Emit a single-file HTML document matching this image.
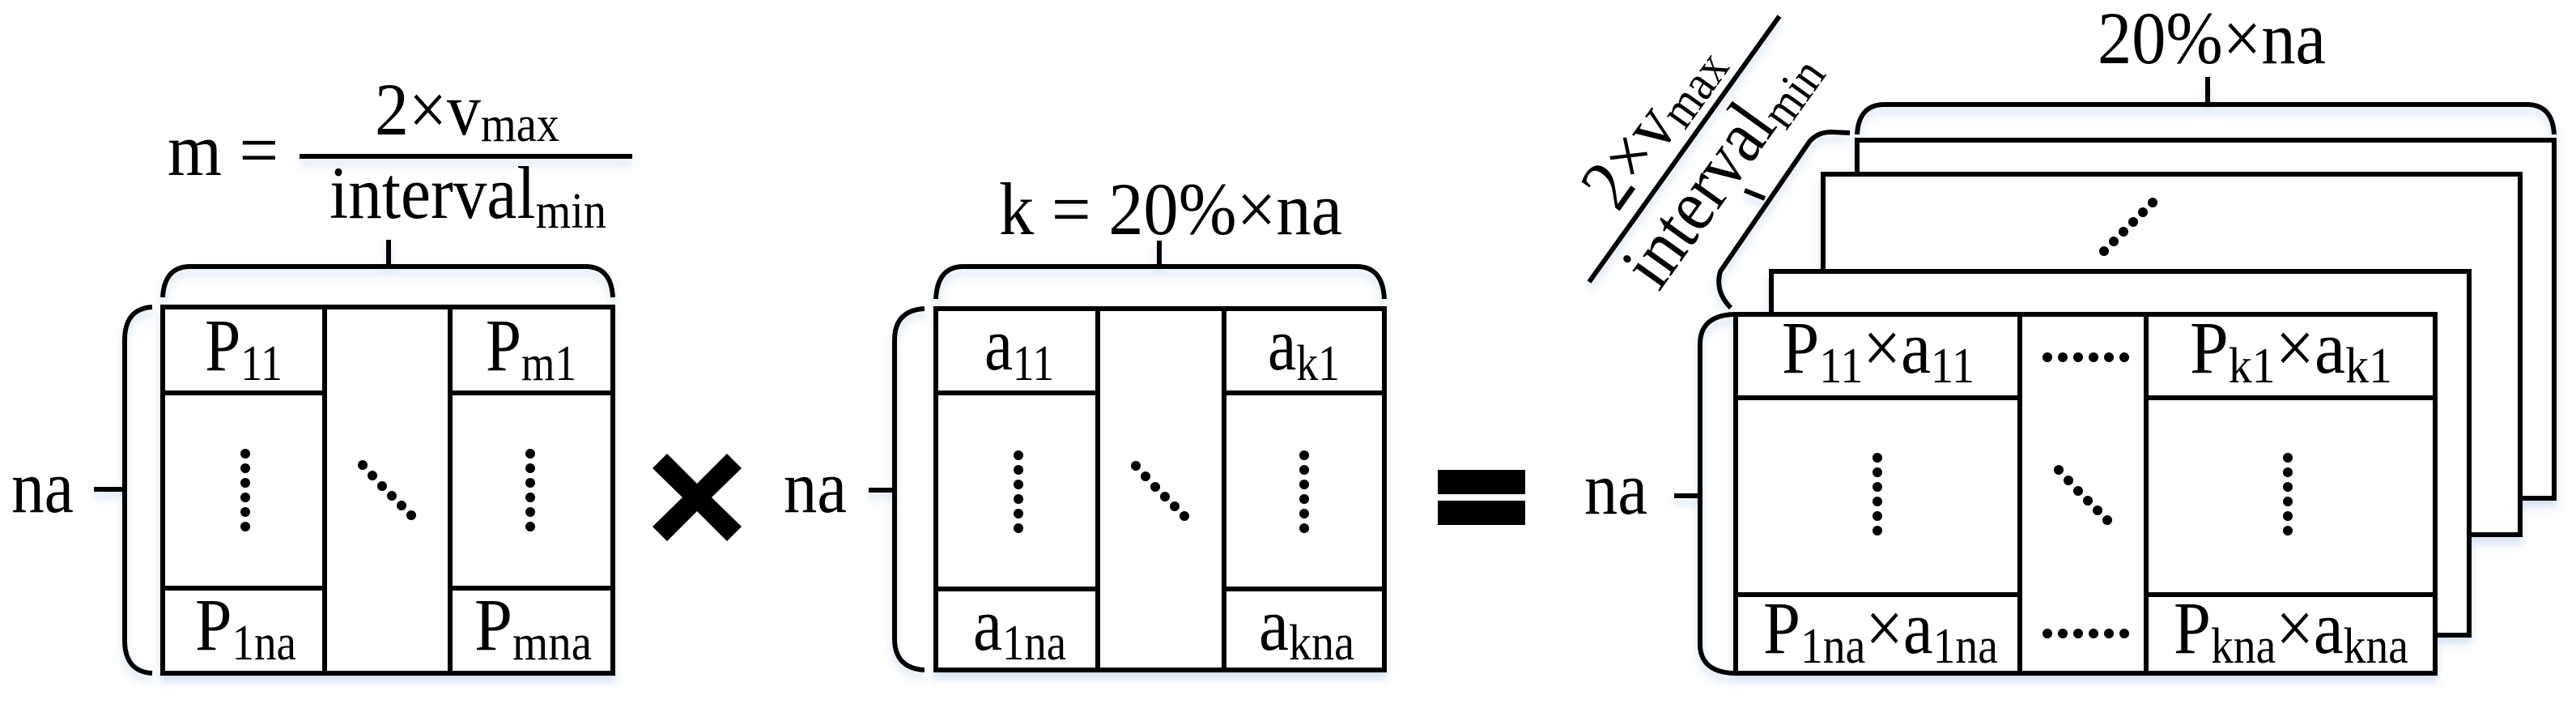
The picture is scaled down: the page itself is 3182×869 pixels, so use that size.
<!DOCTYPE html>
<html><head><meta charset="utf-8"><style>
html,body{margin:0;padding:0;background:#fff;}
svg{display:block;}
text{font-family:"Liberation Serif",serif;fill:#000;}
</style></head><body>
<svg width="3182" height="869" viewBox="0 0 3182 869" xmlns="http://www.w3.org/2000/svg">
<defs>
<filter id="sh" x="-5%" y="-5%" width="110%" height="115%">
<feDropShadow dx="0" dy="8" stdDeviation="5" flood-color="#9fbde0" flood-opacity="0.45"/>
</filter>
<g id="vd"><circle cx="0" cy="0" r="6"/><circle cx="0" cy="18" r="6"/><circle cx="0" cy="36" r="6"/><circle cx="0" cy="54" r="6"/><circle cx="0" cy="72" r="6"/><circle cx="0" cy="90" r="6"/></g>
<g id="dd"><circle cx="0" cy="0" r="6"/><circle cx="12" cy="13" r="6"/><circle cx="24" cy="26" r="6"/><circle cx="36" cy="38" r="6"/><circle cx="48" cy="50" r="6"/><circle cx="60" cy="62" r="6"/></g>
<g id="hd"><circle cx="0" cy="0" r="6"/><circle cx="19" cy="0" r="6"/><circle cx="38" cy="0" r="6"/><circle cx="57" cy="0" r="6"/><circle cx="76" cy="0" r="6"/><circle cx="95" cy="0" r="6"/></g>
</defs>
<g filter="url(#sh)" stroke="#000" stroke-width="6" fill="none" stroke-linecap="butt">
<!-- Matrix 1 -->
<rect x="201" y="379" width="556" height="452" fill="#fff"/>
<line x1="401" y1="379" x2="401" y2="831"/>
<line x1="556" y1="379" x2="556" y2="831"/>
<line x1="201" y1="485" x2="401" y2="485"/>
<line x1="201" y1="726" x2="401" y2="726"/>
<line x1="556" y1="485" x2="757" y2="485"/>
<line x1="556" y1="726" x2="757" y2="726"/>
<path d="M201,367 Q203,329 235,329 L723,329 Q755,329 757,367"/>
<line x1="480" y1="296" x2="480" y2="329"/>
<path d="M188,379 Q154,381 154,420 L154,790 Q154,829 188,831"/>
<line x1="116" y1="604" x2="154" y2="604"/>
<line x1="370" y1="193" x2="781" y2="193"/>

<!-- Matrix 2 -->
<rect x="1156" y="381" width="554" height="446" fill="#fff"/>
<line x1="1356" y1="381" x2="1356" y2="827"/>
<line x1="1512" y1="381" x2="1512" y2="827"/>
<line x1="1156" y1="485" x2="1356" y2="485"/>
<line x1="1156" y1="727" x2="1356" y2="727"/>
<line x1="1512" y1="485" x2="1710" y2="485"/>
<line x1="1512" y1="727" x2="1710" y2="727"/>
<path d="M1156,369 Q1158,329 1190,329 L1676,329 Q1708,329 1710,369"/>
<line x1="1432" y1="297" x2="1432" y2="329"/>
<path d="M1142,381 Q1105,383 1105,420 L1105,788 Q1105,825 1142,827"/>
<line x1="1073" y1="605" x2="1105" y2="605"/>

<!-- Stack back boxes -->
<rect x="2294" y="173" width="861" height="442" fill="#fff"/>
<rect x="2252" y="215" width="861" height="445" fill="#fff"/>
<rect x="2188" y="335" width="862" height="449" fill="#fff"/>
<!-- Front box -->
<rect x="2144" y="388" width="864" height="443" fill="#fff"/>
<line x1="2495" y1="388" x2="2495" y2="831"/>
<line x1="2651" y1="388" x2="2651" y2="831"/>
<line x1="2144" y1="491" x2="2495" y2="491"/>
<line x1="2144" y1="734" x2="2495" y2="734"/>
<line x1="2651" y1="491" x2="3008" y2="491"/>
<line x1="2651" y1="734" x2="3008" y2="734"/>
<path d="M2294,166 Q2296,129 2328,129 L3121,129 Q3153,129 3155,166"/>
<line x1="2727" y1="95" x2="2727" y2="129"/>
<path d="M2141,388 Q2100,390 2100,425 L2100,795 Q2100,829 2141,831"/>
<line x1="2068" y1="612" x2="2100" y2="612"/>
<!-- diagonal brace -->
<path d="M2138,380 Q2118,360 2125,335 L2235,175 Q2245,163 2262,163 L2285,164"/>
<line x1="2180" y1="245" x2="2155" y2="235"/>
<line x1="1963" y1="348" x2="2198" y2="20"/>
</g>

<g fill="#000">
<path d="M806,578 L824,560 L861,597 L898,560 L916,578 L879,614 L916,650 L898,668 L861,631 L824,668 L806,650 L843,614 Z"/>
<rect x="1776" y="580" width="108" height="30"/>
<rect x="1776" y="618" width="108" height="30"/>
</g>

<g fill="#000">
<use href="#vd" x="303" y="560"/>
<use href="#vd" x="655" y="560"/>
<use href="#vd" x="1258" y="562"/>
<use href="#vd" x="1611" y="562"/>
<use href="#vd" x="2319" y="565"/>
<use href="#vd" x="2826" y="565"/>
<use href="#dd" x="448" y="574"/>
<use href="#dd" x="1403" y="575"/>
<use href="#dd" x="2543" y="580"/>
<circle cx="2599" cy="310" r="6"/><circle cx="2611" cy="298" r="6"/><circle cx="2623" cy="286" r="6"/><circle cx="2635" cy="274" r="6"/><circle cx="2647" cy="262" r="6"/><circle cx="2659" cy="250" r="6"/>
<use href="#hd" x="2529" y="441"/>
<use href="#hd" x="2529" y="782"/>
</g>

<g font-size="92">
<text x="14" y="632" textLength="77" lengthAdjust="spacingAndGlyphs">na</text>
<text x="968" y="632" textLength="78" lengthAdjust="spacingAndGlyphs">na</text>
<text x="1957" y="634" textLength="78" lengthAdjust="spacingAndGlyphs">na</text>

<text x="207" y="216" textLength="137" lengthAdjust="spacingAndGlyphs">m =</text>
<text x="463" y="166" textLength="228" lengthAdjust="spacingAndGlyphs">2×v<tspan font-size="62" dy="8">max</tspan></text>
<text x="407" y="269" textLength="342" lengthAdjust="spacingAndGlyphs">interval<tspan font-size="62" dy="12">min</tspan></text>
<text x="1234" y="289" textLength="424" lengthAdjust="spacingAndGlyphs">k = 20%×na</text>
<text x="2591" y="78" textLength="282" lengthAdjust="spacingAndGlyphs">20%×na</text>

<g transform="translate(2080,184) rotate(-54.4)">
<text x="-112" y="-20" textLength="228" lengthAdjust="spacingAndGlyphs">2×v<tspan font-size="62" dy="8">max</tspan></text>
<text x="-162" y="78" textLength="340" lengthAdjust="spacingAndGlyphs">interval<tspan font-size="62" dy="12">min</tspan></text>
</g>

<text x="253" y="457" textLength="96" lengthAdjust="spacingAndGlyphs">P<tspan font-size="62" dy="12">11</tspan></text>
<text x="600" y="457" textLength="112" lengthAdjust="spacingAndGlyphs">P<tspan font-size="62" dy="12">m1</tspan></text>
<text x="241" y="802" textLength="125" lengthAdjust="spacingAndGlyphs">P<tspan font-size="62" dy="12">1na</tspan></text>
<text x="586" y="802" textLength="145" lengthAdjust="spacingAndGlyphs">P<tspan font-size="62" dy="12">mna</tspan></text>

<text x="1216" y="456" textLength="86" lengthAdjust="spacingAndGlyphs">a<tspan font-size="62" dy="13">11</tspan></text>
<text x="1566" y="456" textLength="89" lengthAdjust="spacingAndGlyphs">a<tspan font-size="62" dy="13">k1</tspan></text>
<text x="1202" y="802" textLength="115" lengthAdjust="spacingAndGlyphs">a<tspan font-size="62" dy="12">1na</tspan></text>
<text x="1555" y="802" textLength="118" lengthAdjust="spacingAndGlyphs">a<tspan font-size="62" dy="12">kna</tspan></text>

<text x="2201" y="460" textLength="238" lengthAdjust="spacingAndGlyphs">P<tspan font-size="62" dy="12">11</tspan><tspan dy="-12">×a</tspan><tspan font-size="62" dy="12">11</tspan></text>
<text x="2705" y="460" textLength="250" lengthAdjust="spacingAndGlyphs">P<tspan font-size="62" dy="12">k1</tspan><tspan dy="-12">×a</tspan><tspan font-size="62" dy="12">k1</tspan></text>
<text x="2178" y="806" textLength="290" lengthAdjust="spacingAndGlyphs">P<tspan font-size="62" dy="12">1na</tspan><tspan dy="-12">×a</tspan><tspan font-size="62" dy="12">1na</tspan></text>
<text x="2685" y="806" textLength="290" lengthAdjust="spacingAndGlyphs">P<tspan font-size="62" dy="12">kna</tspan><tspan dy="-12">×a</tspan><tspan font-size="62" dy="12">kna</tspan></text>
</g>
</svg>
</body></html>
